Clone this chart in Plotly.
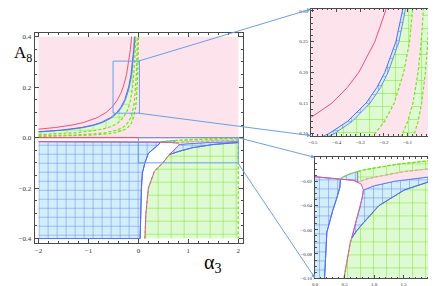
import plotly.graph_objects as go

W, H = 436, 286

# ---------------- data ----------------
alpha_min, alpha_max = -2.0, 2.0
a8_min, a8_max = -0.4, 0.4
a8_zero = 0.0

# upper half (A8 > 0): boundary curves, alpha_3 vs A_8
red_y = [0.0334, 0.04, 0.05, 0.06, 0.08, 0.10, 0.12, 0.15, 0.175, 0.20, 0.25, 0.30, 0.35, 0.40]
red_x = [-2.0, -1.666, -1.326, -1.099, -0.816, -0.646, -0.533, -0.419, -0.355, -0.306, -0.238, -0.193, -0.160, -0.136]

blue1_y = [0.0233, 0.03, 0.04, 0.05, 0.06, 0.08, 0.10, 0.12, 0.15, 0.175, 0.20, 0.25, 0.30, 0.35, 0.40]
blue1_x = [-2.0, -1.539, -1.144, -0.907, -0.749, -0.552, -0.433, -0.354, -0.275, -0.230, -0.196, -0.149, -0.117, -0.094, -0.078]

blue2_y = [0.0223, 0.03, 0.04, 0.05, 0.06, 0.08, 0.10, 0.12, 0.15, 0.175, 0.20, 0.25, 0.30, 0.35, 0.40]
blue2_x = [-2.0, -1.476, -1.096, -0.867, -0.715, -0.524, -0.410, -0.334, -0.258, -0.214, -0.182, -0.136, -0.105, -0.084, -0.067]

green1_y = [0.0122, 0.015, 0.02, 0.03, 0.04, 0.05, 0.06, 0.08, 0.10, 0.12, 0.15, 0.20, 0.25, 0.30, 0.35, 0.40]
green1_x = [-2.0, -1.620, -1.214, -0.807, -0.604, -0.482, -0.400, -0.299, -0.238, -0.197, -0.156, -0.116, -0.091, -0.075, -0.063, -0.055]

green2_y = [0.0066, 0.008, 0.01, 0.015, 0.02, 0.03, 0.04, 0.05, 0.06, 0.08, 0.10, 0.12, 0.15, 0.20, 0.25, 0.30, 0.35, 0.40]
green2_x = [-2.0, -1.639, -1.309, -0.869, -0.649, -0.429, -0.319, -0.253, -0.209, -0.154, -0.121, -0.099, -0.077, -0.055, -0.042, -0.033, -0.027, -0.022]

green3_y = [0.0047, 0.006, 0.008, 0.01, 0.015, 0.02, 0.03, 0.04, 0.05, 0.06, 0.08, 0.10, 0.12, 0.15, 0.20, 0.25, 0.30, 0.35, 0.40]
green3_x = [-2.0, -1.552, -1.158, -0.922, -0.607, -0.449, -0.292, -0.213, -0.166, -0.134, -0.095, -0.071, -0.055, -0.040, -0.024, -0.014, -0.008, -0.004, 0.000]

# lower half (A8 < 0)
blue_left_top_x = [-2.0, 0.0, 0.43]
blue_left_top_y = [-0.016, -0.016, -0.018]
blue_left_edge_x = [0.43, 0.42, 0.36, 0.30, 0.20, 0.13, 0.08, 0.06, 0.045, 0.035]
blue_left_edge_y = [-0.018, -0.025, -0.035, -0.044, -0.062, -0.10, -0.14, -0.20, -0.30, -0.40]

mag_low_x = [0.13, 0.15, 0.20, 0.32, 0.49, 0.60, 0.62]
mag_low_y = [-0.40, -0.30, -0.20, -0.133, -0.10, -0.07, -0.067]
mag_high_x = [0.62, 0.70, 0.76, 0.80, 0.82, 0.78, 0.65, 0.43]
mag_high_y = [-0.067, -0.052, -0.042, -0.033, -0.027, -0.022, -0.019, -0.018]

bc_x = [0.62, 0.70, 0.82, 1.08, 1.51, 2.0]
bc_y = [-0.067, -0.061, -0.054, -0.040, -0.027, -0.019]
pb_x = [0.82, 1.0, 1.35, 2.0]
pb_y = [-0.027, -0.0235, -0.0197, -0.0157]
pt_x = [0.72, 0.9, 1.08, 1.51, 2.0]
pt_y = [-0.0205, -0.0175, -0.0157, -0.0117, -0.0091]
gt_x = [0.43, 0.47, 0.60, 0.72, 0.82, 1.35, 2.0]
gt_y = [-0.018, -0.0163, -0.0135, -0.0118, -0.0104, -0.0059, -0.0024]

# ticks
main_xt = [-2, -1, 0, 1, 2]
main_xl = ["\u22122", "\u22121", "0", "1", "2"]
main_yt = [-0.4, -0.2, 0.0, 0.2, 0.4]
main_yl = ["\u22120.4", "\u22120.2", "0.0", "0.2", "0.4"]
in1_xt = [-0.5, -0.4, -0.3, -0.2, -0.1, 0.0]
in1_xl = ["\u22120.5", "\u22120.4", "\u22120.3", "\u22120.2", "\u22120.1", "0.0"]
in1_yt = [0.10, 0.15, 0.20, 0.25, 0.30]
in1_yl = ["0.10", "0.15", "0.20", "0.25", "0.30"]
in2_xt = [0.0, 0.5, 1.0, 1.5, 2.0]
in2_xl = ["0.0", "0.5", "1.0", "1.5", "2.0"]
in2_yt = [-0.02, -0.04, -0.06, -0.08, -0.10]
in2_yl = ["\u22120.02", "\u22120.04", "\u22120.06", "\u22120.08", "\u22120.10"]

# ---------------- styles / layout ----------------
PINK = "#fde3eb"
LBLUE = "#d3eefb"
BLUE = "#4f6ef0"
LGREEN = "#ddfad2"
GREEN = "#78e01c"
RED = "#f0507c"
MAG = "#e0589a"
RECT = "#6c9ee6"
FRAME = "#4a4a4a"
DASH = "3px,2px"

main_dom_x = [24 / W, 236 / W]
main_dom_y = [(H - 237) / H, (H - 25) / H]
main_rx = [-2.079, 2.099]
main_ry = [-0.4157, 0.4157]
in1_dom_x = [305 / W, 432 / W]
in1_dom_y = [(H - 129) / H, (H - 1) / H]
in1_rx = [-0.508, 0.021]
in1_ry = [0.0968, 0.3032]
in2_dom_x = [309 / W, 429 / W]
in2_dom_y = [(H - 273) / H, (H - 151) / H]
in2_rx = [0.0, 2.0]
in2_ry = [-0.1, 0.0]

fig = go.Figure()

TOP_AXES = [("x", "y"), ("x2", "y2")]
BOT_AXES = [("x", "y"), ("x3", "y3")]


def poly(xs, ys, axes, color, pattern=None, line=None):
    for xa, ya in axes:
        kw = dict(x=xs, y=ys, fill="toself", fillcolor=color, mode="lines",
                  line=line or dict(width=0, color=color), xaxis=xa, yaxis=ya,
                  hoverinfo="skip")
        if pattern:
            kw["fillpattern"] = pattern
        fig.add_trace(go.Scatter(**kw))


def curve(xs, ys, axes, color, width=1.0, dash="solid"):
    for xa, ya in axes:
        fig.add_trace(go.Scatter(x=xs, y=ys, mode="lines",
                                 line=dict(color=color, width=width, dash=dash),
                                 xaxis=xa, yaxis=ya, hoverinfo="skip"))


blue_pat = dict(shape="+", size=9, solidity=0.12, fgcolor=BLUE, fgopacity=0.75, bgcolor=LBLUE, fillmode="replace")
green_pat = dict(shape="+", size=13, solidity=0.08, fgcolor=GREEN, fgopacity=0.9, bgcolor=LGREEN, fillmode="replace")

# upper half
poly([alpha_min, alpha_max, alpha_max, alpha_min], [a8_zero, a8_zero, a8_max, a8_max], TOP_AXES, PINK)
poly(blue1_x + blue2_x[::-1], blue1_y + blue2_y[::-1], TOP_AXES, LBLUE, blue_pat)
poly(blue2_x + green1_x[::-1], blue2_y + green1_y[::-1], TOP_AXES, LGREEN, green_pat)
poly(green2_x + green3_x[::-1], green2_y + green3_y[::-1], TOP_AXES, LGREEN, green_pat)

curve([alpha_min, alpha_max], [a8_zero, a8_zero], TOP_AXES, RED, 1.2)
curve(red_x, red_y, TOP_AXES, RED, 1.0)
curve(blue1_x, blue1_y, TOP_AXES, BLUE, 1.0)
curve(blue2_x, blue2_y, TOP_AXES, BLUE, 0.8)
curve(green1_x, green1_y, TOP_AXES, GREEN, 1.2, DASH)
curve(green2_x, green2_y, TOP_AXES, GREEN, 1.2, DASH)
curve(green3_x, green3_y, TOP_AXES, GREEN, 1.2, DASH)

# lower half
poly(blue_left_top_x + blue_left_edge_x[1:] + [alpha_min],
     blue_left_top_y + blue_left_edge_y[1:] + [a8_min],
     BOT_AXES, LBLUE, blue_pat, dict(color=BLUE, width=1))
poly(mag_low_x + bc_x + [alpha_max], mag_low_y + bc_y + [a8_min],
     BOT_AXES, LGREEN, green_pat, dict(color=GREEN, width=1.2, dash=DASH))
poly(mag_high_x[:5] + pb_x[1:] + bc_x[::-1], mag_high_y[:5] + pb_y[1:] + bc_y[::-1],
     BOT_AXES, LBLUE, blue_pat, dict(color=BLUE, width=0.8))
poly(pt_x + pb_x[::-1] + mag_high_x[5:6], pt_y + pb_y[::-1] + mag_high_y[5:6],
     BOT_AXES, PINK)
poly(gt_x[3:] + pt_x[::-1], gt_y[3:] + pt_y[::-1], BOT_AXES, LGREEN, green_pat,
     dict(color=GREEN, width=1.2, dash=DASH))
poly(gt_x[:4] + pt_x[:1] + mag_high_x[6:], gt_y[:4] + pt_y[:1] + mag_high_y[6:],
     BOT_AXES, LBLUE, blue_pat, dict(color=BLUE, width=0.8))

curve(blue_left_top_x, blue_left_top_y, BOT_AXES, MAG, 1.0)
curve(blue_left_edge_x, blue_left_edge_y, BOT_AXES, BLUE, 1.0)
curve(bc_x, bc_y, BOT_AXES, BLUE, 1.0)
curve(pb_x, pb_y, BOT_AXES, BLUE, 0.8)
curve(pt_x, pt_y, BOT_AXES, "#f3a0bd", 0.8)
curve(gt_x, gt_y, BOT_AXES, GREEN, 1.2, DASH)
curve(mag_low_x + mag_high_x[1:], mag_low_y + mag_high_y[1:], BOT_AXES, MAG, 1.0)


def axis(dom, rng, tv, tt, anchor, size, minor_dtick, ticklen=4):
    return dict(domain=dom, range=rng, anchor=anchor, tickvals=tv, ticktext=tt,
                showline=True, mirror="allticks", linecolor=FRAME, linewidth=1,
                ticks="inside", ticklen=ticklen, tickwidth=0.8, tickcolor=FRAME,
                minor=dict(ticks="inside", ticklen=ticklen / 2, dtick=minor_dtick,
                           tickcolor=FRAME, tickwidth=0.6),
                showgrid=False, zeroline=False,
                tickfont=dict(family="Liberation Serif", size=size, color="#333"),
                ticklabelstandoff=1)


fig.update_layout(
    width=W, height=H, margin=dict(l=0, r=0, t=0, b=0),
    plot_bgcolor="white", paper_bgcolor="white", showlegend=False,
    xaxis=axis(main_dom_x, main_rx, main_xt, main_xl, "y", 7, 0.2),
    yaxis=axis(main_dom_y, main_ry, main_yt, main_yl, "x", 7, 0.05),
    xaxis2=axis(in1_dom_x, in1_rx, in1_xt, in1_xl, "y2", 5, 0.02, 3),
    yaxis2=axis(in1_dom_y, in1_ry, in1_yt, in1_yl, "x2", 5, 0.01, 3),
    xaxis3=axis(in2_dom_x, in2_rx, in2_xt, in2_xl, "y3", 5, 0.1, 3),
    yaxis3=axis(in2_dom_y, in2_ry, in2_yt, in2_yl, "x3", 5, 0.005, 3),
)

# zoom rectangles on the main plot
for rx, ry in [(in1_rx, in1_ry), (in2_rx, in2_ry)]:
    fig.add_shape(type="rect", xref="x", yref="y", x0=rx[0], x1=rx[1], y0=ry[0], y1=ry[1],
                  line=dict(color=RECT, width=1), layer="above")


def to_px(v, dom, rng):
    return dom[0] + (v - rng[0]) / (rng[1] - rng[0]) * (dom[1] - dom[0])


connectors = [
    ((in1_rx[1], in1_ry[1]), (in1_rx[0], in1_ry[1]), in1_dom_x, in1_dom_y, in1_rx, in1_ry),
    ((in1_rx[1], in1_ry[0]), (in1_rx[0], in1_ry[0]), in1_dom_x, in1_dom_y, in1_rx, in1_ry),
    ((in2_rx[1], in2_ry[1]), (in2_rx[0], in2_ry[1]), in2_dom_x, in2_dom_y, in2_rx, in2_ry),
    ((in2_rx[1], in2_ry[0]), (in2_rx[0], in2_ry[0]), in2_dom_x, in2_dom_y, in2_rx, in2_ry),
]
for (tx, ty), (hx, hy), dx, dy, rx, ry in connectors:
    tpx = to_px(tx, main_dom_x, main_rx) * W
    tpy = (1 - to_px(ty, main_dom_y, main_ry)) * H
    hpx = to_px(hx, dx, rx) * W
    hpy = (1 - to_px(hy, dy, ry)) * H
    fig.add_annotation(x=hpx / W, y=1 - hpy / H, xref="paper", yref="paper", text="",
                       showarrow=True, ax=tpx - hpx, ay=tpy - hpy, arrowhead=2,
                       arrowsize=0.8, arrowwidth=1, arrowcolor=RECT, standoff=0)

# axis titles
fig.add_annotation(x=1 / W, y=1 - 33 / H, xref="paper", yref="paper", xanchor="left", yanchor="top",
                   text="A<sub>8</sub>", showarrow=False,
                   font=dict(family="Liberation Serif", size=17, color="black"))
fig.add_annotation(x=194 / W, y=1 - 258 / H, xref="paper", yref="paper", xanchor="left", yanchor="middle",
                   text="\u03b1<sub>3</sub>", showarrow=False,
                   font=dict(family="Liberation Serif", size=20, color="black"))

fig.write_html("out.html")
